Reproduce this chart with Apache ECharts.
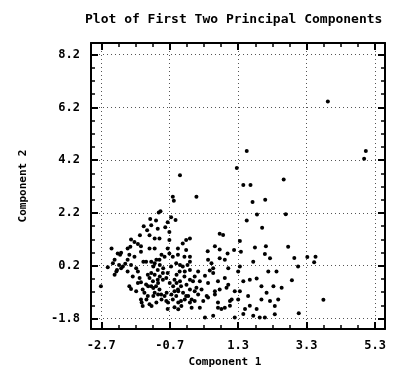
<!DOCTYPE html>
<html>
<head>
<meta charset="utf-8">
<script src="https://cdn.jsdelivr.net/npm/echarts@6/dist/echarts.min.js"></script>
<style>
  html, body { margin: 0; padding: 0; background: #fff; }
  #chart { width: 409px; height: 373px; }
</style>
</head>
<body>
<div id="chart"></div>
<script>
// principal component scores
var comp1 = [
  3.92, 1.55, 5.03, 4.98, 1.26, -0.40, -0.61, -0.58, -0.97, -1.02,
  -1.27, -1.10, -0.66, -0.53, -0.76, -1.46, -1.24, -1.36, -1.05, -0.83,
  -0.71, -1.57, -1.29, -1.14, -1.83, -1.73, -1.63, -1.54, -1.93, -1.85,
  -1.00, -0.71, -1.29, -0.46, -0.32, -0.22, -2.12, -2.15, -2.31, -1.93,
  -2.00, -2.07, -2.24, -2.51, -2.71, -1.83, -1.68, -1.63, -1.78, -1.63,
  -1.54, -1.49, -1.83, -1.68, -1.44, -1.54, -1.34, -1.24, -1.19, -1.29,
  -1.34, -1.24, -1.05, -0.90, -0.80, -0.90, -1.10, -1.00, -1.14, -0.95,
  -1.29, -1.49, -0.85, -0.80, -0.61, -0.51, -0.46, -0.37, -0.56, -0.76,
  -0.56, -0.37, -0.22, -1.54, -1.39, -1.24, -1.14, -1.00, -0.85, -0.71,
  -0.61, -0.51, -0.66, -0.76, -0.56, -0.41, -0.27, -0.32, -1.14, -0.76,
  -0.46, -0.27, -0.22, -1.73, -1.88, -1.05, -1.39, -1.58, -1.93, -2.22,
  -2.12, -2.36, -2.18, -2.26, -2.31, -1.47, -1.09, -0.94, -0.99, -0.89,
  -1.18, -1.14, -0.99, -0.70, -0.60, -1.04, -1.18, -1.33, -1.88, -1.38,
  -1.18, -1.04, -0.94, -0.79, -0.65, -0.45, -0.75, -1.09, -1.23, -1.52,
  -2.40, 1.45, 1.66, 2.63, 0.08, 1.72, 2.09, 1.85, 1.55, 2.00,
  0.76, 0.86, 1.35, -0.11, 0.62, 0.76, 1.18, 1.79, 2.11, 0.41,
  -0.11, -0.18, 0.99, 1.38, 2.08, 0.42, 0.76, 0.52, 1.01, 1.30,
  1.74, 2.23, 2.42, 2.18, 1.84, 1.64, 1.45, 0.91, 0.71, 0.57,
  0.47, 0.33, 0.13, 0.03, -0.11, -0.21, -0.11, -0.06, 0.08, 0.18,
  0.23, 0.13, 0.38, 0.28, 0.18, -0.06, 0.62, 0.76, 0.96, 1.20,
  1.35, 1.11, 1.30, 1.59, 1.50, 1.45, 1.64, 0.71, 0.81, 1.06,
  1.20, 0.33, 0.57, 1.74, 1.93, 2.08, 2.37, 1.98, 2.23, 2.13,
  2.33, 1.98, 2.57, 2.47, 2.37, 1.84, -0.11, -0.16, -0.40, -0.11,
  0.57, 0.91, 1.35, -0.50, -0.40, -0.02, 0.42, 1.01, -0.45, -0.31,
  0.03, -0.26, -0.11, 0.03, -0.36, -0.45, 0.71, 0.91, 1.06, 0.62,
  0.42, -0.50, -0.26, 2.69, 2.76, 2.94, 3.32, 3.56, 3.52, 3.05, 2.87,
  3.79, 3.07
];
var comp2 = [
  6.42, 4.55, 4.55, 4.25, 3.90, 3.63, 2.81, 2.66, 2.26, 2.22,
  1.97, 1.91, 2.04, 1.93, 1.85, 1.69, 1.73, 1.54, 1.60, 1.66,
  1.48, 1.35, 1.35, 1.23, 1.19, 1.10, 1.02, 0.94, 0.85, 0.92,
  1.23, 1.17, 0.85, 0.85, 1.04, 1.17, 0.69, 0.61, 0.42, 0.42,
  0.27, 0.17, 0.04, 0.14, -0.58, 0.23, 0.10, -0.02, -0.21, -0.46,
  -0.43, -0.70, -0.68, -0.77, -0.83, -1.08, -0.95, -0.58, -0.39, -0.27,
  -0.14, -0.08, 0.04, -0.08, -0.27, -0.33, -0.58, -0.70, -0.83, -0.89,
  -1.26, -1.33, -0.95, -1.14, -1.08, -0.95, -0.70, -0.58, -0.77, -1.44,
  -1.38, -1.14, -0.95, 0.73, 0.35, 0.35, 0.29, 0.42, 0.54, 0.66,
  0.54, 0.29, 0.17, -0.08, -0.33, -0.02, -0.21, 0.17, 0.85, 0.85,
  0.61, 0.54, 0.79, 0.54, 0.61, -0.33, -0.51, -0.27, -0.02, 0.66,
  0.10, 0.29, 0.23, -0.02, -0.14, 0.35, 0.42, 0.61, 0.23, 0.10,
  0.17, -0.14, -0.21, -0.46, -0.58, -0.46, -0.65, -0.58, -0.58, -1.08,
  -0.95, -0.89, -1.08, -0.83, -0.89, -1.20, -1.20, -1.20, -1.33, -1.20,
  0.85, 3.26, 3.26, 3.47, 2.81, 2.61, 2.70, 2.14, 1.91, 1.64,
  1.41, 1.36, 1.14, 1.23, 0.94, 0.81, 0.79, 0.89, 0.94, 0.75,
  0.54, 0.23, 0.66, 0.73, 0.64, 0.42, 0.48, 0.29, 0.10, -0.02,
  0.35, 0.48, -0.02, -0.02, -0.29, -0.33, -0.39, -0.27, -0.39, -0.08,
  0.02, -0.18, -0.02, -0.21, -0.33, -0.52, -0.70, -1.08, -0.64, -0.39,
  -0.70, -0.89, -0.95, -1.14, -1.39, -1.39, -0.89, -0.70, -0.64, -0.77,
  -0.77, -1.08, -1.08, -0.95, -1.44, -1.63, -1.32, -1.39, -1.44, -1.32,
  -1.76, -1.76, -1.70, -1.70, -1.76, -1.76, -1.64, -1.08, -1.14, -0.83,
  -0.58, -0.58, -0.64, -1.08, -1.33, -1.44, 0.04, -0.95, 0.23, 0.35,
  0.10, 0.42, 0.17, -0.46, -0.39, -0.39, -0.46, -0.52, -0.77, -0.83,
  -0.77, -1.08, -1.20, -1.14, -1.33, -1.45, -1.20, -1.39, -1.14, -0.77,
  -1.01, -0.14, -0.02, 2.15, 0.92, 0.49, 0.53, 0.54, 0.33, 0.17, -0.35,
  -1.09, -1.60
];

// tick positions as printed on the axes
var xTicks = [-2.7, -0.7, 1.3, 3.3, 5.3];
var yTicks = [-1.8, 0.2, 2.2, 4.2, 6.2, 8.2];
var xMinor = [-2.7, -2.2, -1.7, -1.2, -0.7, -0.2, 0.3, 0.8, 1.3, 1.8, 2.3, 2.8, 3.3, 3.8, 4.3, 4.8, 5.3];
var yMinor = [-1.8, -1.3, -0.8, -0.3, 0.2, 0.7, 1.2, 1.7, 2.2, 2.7, 3.2, 3.7, 4.2, 4.7, 5.2, 5.7, 6.2, 6.7, 7.2, 7.7, 8.2];

var X_MIN = -3.0, X_MAX = 5.59;
var Y_MIN = -2.2, Y_MAX = 8.64;

var FONT = "DejaVu Sans Mono";
var labelStyle = { fontFamily: FONT, fontSize: 12, fontWeight: "bold", color: "#000" };

// top / right edges of the frame, major ticks only
function frameAxis(pos, min, max, ticks) {
  return {
    type: "value",
    position: pos,
    min: min,
    max: max,
    axisLine: { show: true, onZero: false, lineStyle: { color: "#000", width: 2 } },
    axisTick: { show: true, inside: true, length: 7, customValues: ticks, lineStyle: { color: "#000", width: 2 } },
    axisLabel: { show: false },
    splitLine: { show: false },
  };
}
// small in-pointing ticks every 0.5
function minorAxis(pos, min, max, ticks) {
  return {
    type: "value",
    position: pos,
    min: min,
    max: max,
    axisLine: { show: false, onZero: false },
    axisTick: { show: true, inside: true, length: 4, customValues: ticks, lineStyle: { color: "#000", width: 1.5 } },
    axisLabel: { show: false },
    splitLine: { show: false },
  };
}

var chart = echarts.init(document.getElementById("chart"));
var option = {
  animation: false,
  backgroundColor: "#fff",
  title: {
    text: "Plot of First Two Principal Components",
    left: 80,
    top: 8,
    textStyle: { fontFamily: FONT, fontSize: 13, fontWeight: "bold", color: "#000" },
  },
  grid: { left: 91, right: 24, top: 43, bottom: 40 },
  xAxis: [
    {
      type: "value",
      position: "bottom",
      min: X_MIN,
      max: X_MAX,
      name: "Component 1",
      nameLocation: "middle",
      nameGap: 28,
      nameTextStyle: { fontFamily: FONT, fontSize: 11, fontWeight: "bold", color: "#000", padding: [0, 26, 0, 0] },
      axisLine: { show: true, onZero: false, lineStyle: { color: "#000", width: 2 } },
      axisTick: { show: true, inside: true, length: 7, customValues: xTicks, lineStyle: { color: "#000", width: 2 } },
      axisLabel: Object.assign({ customValues: xTicks, margin: 11, formatter: function (v) { return v.toFixed(1); } }, labelStyle),
      splitLine: { show: true, lineStyle: { type: [1, 3], color: "#555", width: 1 } },
    },
    minorAxis("bottom", X_MIN, X_MAX, xMinor),
    frameAxis("top", X_MIN, X_MAX, xTicks),
    minorAxis("top", X_MIN, X_MAX, xMinor),
  ],
  yAxis: [
    {
      type: "value",
      position: "left",
      min: Y_MIN,
      max: Y_MAX,
      name: "Component 2",
      nameLocation: "middle",
      nameGap: 62,
      nameTextStyle: { fontFamily: FONT, fontSize: 11, fontWeight: "bold", color: "#000" },
      axisLine: { show: true, onZero: false, lineStyle: { color: "#000", width: 2 } },
      axisTick: { show: true, inside: true, length: 7, customValues: yTicks, lineStyle: { color: "#000", width: 2 } },
      axisLabel: Object.assign({ customValues: yTicks, margin: 11, formatter: function (v) { return v.toFixed(1); } }, labelStyle),
      splitLine: { show: true, lineStyle: { type: [1, 3], color: "#555", width: 1 } },
    },
    minorAxis("left", Y_MIN, Y_MAX, yMinor),
    frameAxis("right", Y_MIN, Y_MAX, yTicks),
    minorAxis("right", Y_MIN, Y_MAX, yMinor),
  ],
  series: [
    {
      type: "scatter",
      xAxisIndex: 0,
      yAxisIndex: 0,
      symbol: "circle",
      symbolSize: 4,
      itemStyle: { color: "#000", opacity: 1 },
      data: comp1.map(function (v, i) { return [v, comp2[i]]; }),
    },
  ],
};
chart.setOption(option);
</script>
</body>
</html>
